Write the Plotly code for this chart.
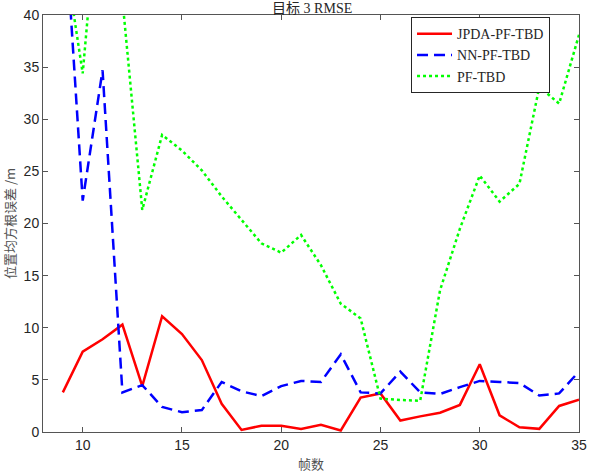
import plotly.graph_objects as go

frames = list(range(9, 36))
jpda = [3.8, 7.7, 8.9, 10.3, 4.4, 11.1, 9.4, 6.9, 2.7, 0.2, 0.6, 0.6, 0.3, 0.7, 0.15,
        3.3, 3.7, 1.1, 1.5, 1.85, 2.6, 6.5, 1.6, 0.45, 0.3, 2.5, 3.1]
nn = [52.0, 22.2, 34.7, 3.8, 4.5, 2.4, 1.9, 2.1, 4.8, 3.9, 3.45, 4.4, 4.9, 4.8, 7.45,
      3.8, 3.7, 5.8, 3.8, 3.65, 4.3, 4.9, 4.8, 4.7, 3.5, 3.7, 5.8]
pf = [47.0, 34.4, 56.0, 41.5, 21.3, 28.5, 27.0, 25.1, 22.6, 20.3, 18.1, 17.2, 18.9, 16.0,
      12.3, 10.9, 3.2, 3.07, 3.0, 13.6, 19.5, 24.6, 22.1, 23.8, 33.1, 31.5, 38.1]

xticks = [10, 15, 20, 25, 30, 35]
yticks = [0, 5, 10, 15, 20, 25, 30, 35, 40]

fig = go.Figure()
fig.add_trace(go.Scatter(x=frames, y=jpda, mode="lines", name="JPDA-PF-TBD",
                         line=dict(color="#FF0000", width=2.5)))
fig.add_trace(go.Scatter(x=frames, y=nn, mode="lines", name="NN-PF-TBD",
                         line=dict(color="#0000FF", width=2.5, dash="11px,6px")))
fig.add_trace(go.Scatter(x=frames, y=pf, mode="lines", name="PF-TBD",
                         line=dict(color="#00FF00", width=2.5, dash="3px,3px")))

axis_common = dict(showgrid=False, zeroline=False, showline=True, linecolor="#555555",
                   linewidth=1, mirror="allticks", ticks="inside", ticklen=5,
                   tickcolor="#555555", automargin=False,
                   tickfont=dict(family="Liberation Sans, Arial", size=14, color="#262626"))

fig.update_layout(
    width=589, height=476,
    margin=dict(l=43, r=10, t=15, b=44, autoexpand=False),
    paper_bgcolor="white", plot_bgcolor="white",
    title=dict(text="目标 3 RMSE", x=0.53, xanchor="center", y=0.983, yanchor="middle",
               automargin=False,
               font=dict(family="Liberation Serif, Noto Sans CJK SC", size=14, color="#262626")),
    xaxis=dict(range=[8, 35], tickvals=xticks,
               title=dict(text="帧数", standoff=8,
                          font=dict(family="Noto Sans CJK SC", size=13, color="#505050")),
               **axis_common),
    yaxis=dict(range=[0, 40], tickvals=yticks,
               title=dict(text="位置均方根误差 /m", standoff=6,
                          font=dict(family="Noto Sans CJK SC", size=13, color="#505050")),
               **axis_common),
    legend=dict(x=0.6866, y=0.995, xanchor="left", yanchor="top",
                bgcolor="white", bordercolor="#262626", borderwidth=1,
                font=dict(family="Liberation Serif", size=14, color="#262626"),
                tracegroupgap=0, itemwidth=35),
    showlegend=True,
)

fig.write_html("out.html")
